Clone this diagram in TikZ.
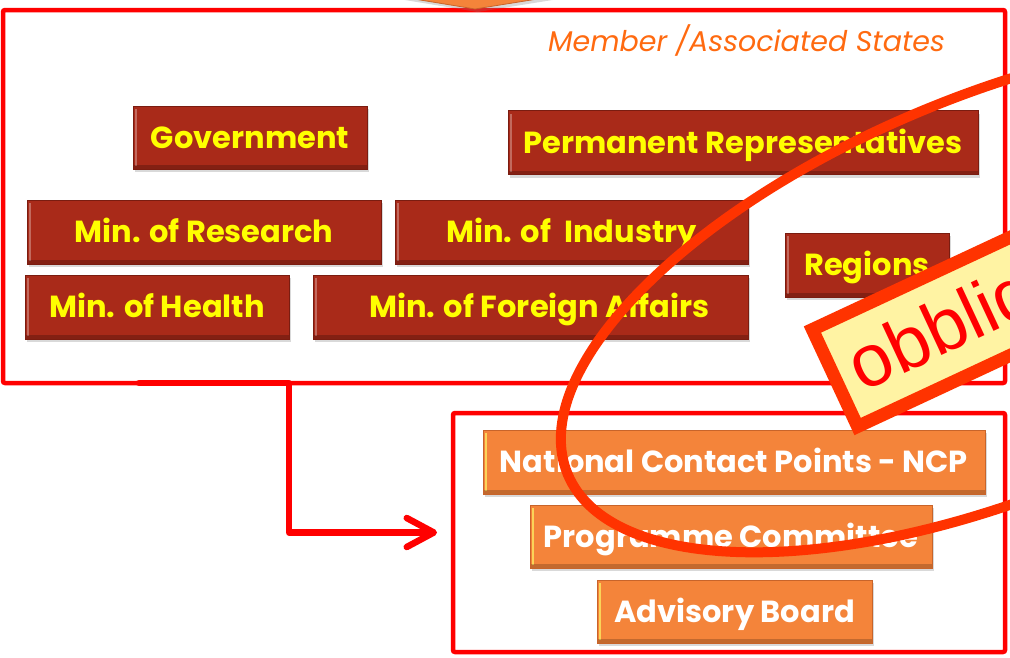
\documentclass[tikz,border=0pt]{standalone}
\usepackage{fontspec}
\setmainfont{Poppins}
\newfontfamily\signfont{Liberation Sans}
\usetikzlibrary{shadows,arrows.meta,calc}
\definecolor{brick}{HTML}{A92A19}
\definecolor{brickdark}{HTML}{7A1C10}
\definecolor{orbox}{HTML}{F4843A}
\definecolor{orboxdark}{HTML}{C8642A}
\definecolor{titleor}{HTML}{FF6A10}
\definecolor{framered}{HTML}{FF0000}
\definecolor{markred}{HTML}{FF3300}
\definecolor{signfill}{HTML}{FFF3A3}
\definecolor{ylw}{HTML}{FFFF00}
\tikzset{
  boxbase/.style={rectangle, inner sep=0pt, line width=0.8pt,
    text height=21.3pt, text depth=0pt,
    drop shadow={opacity=0.3, shadow xshift=2pt, shadow yshift=-3pt},
    font=\fontsize{30.5}{33}\selectfont\bfseries},
  brickbox/.style={boxbase, fill=brick, draw=brickdark, text=ylw,
    path picture={
      \fill[white,opacity=0.3] ([xshift=1.5pt,yshift=3pt]path picture bounding box.south west) rectangle ([xshift=4pt,yshift=-3pt]path picture bounding box.north west);
      \fill[black,opacity=0.22] (path picture bounding box.south west) rectangle ([yshift=4pt]path picture bounding box.south east);
    }},
  orangebox/.style={boxbase, fill=orbox, draw=orboxdark, text=white,
    path picture={
      \fill[yellow!60!white,opacity=0.7] ([xshift=1.5pt,yshift=3pt]path picture bounding box.south west) rectangle ([xshift=4pt,yshift=-3pt]path picture bounding box.north west);
      \fill[black,opacity=0.2] (path picture bounding box.south west) rectangle ([yshift=4pt]path picture bounding box.south east);
    }},
  framebox/.style={draw=framered, line width=4.5pt, rounded corners=2pt},
  link/.style={draw=framered, line width=6.5pt, line cap=round, line join=round},
  signbox/.style={draw=markred, line width=13pt, fill=signfill, outer sep=0pt,
    inner ysep=0pt, inner xsep=19pt, text height=56pt, text depth=6pt,
    minimum height=107pt, text width=380pt, align=left,
    text=framered, font=\signfont\fontsize{74}{80}\selectfont},
}
\begin{document}
\begin{tikzpicture}[x=1pt,y=-1pt]
\useasboundingbox (0,0) rectangle (1010,657);
\clip (0,0) rectangle (1010,657);

% frames
\draw[framebox] (3,10) rectangle (1005,383);
\node[inner sep=0pt, outer sep=0pt, minimum width=1002pt, minimum height=373pt] (member) at (504,196.5) {};
\draw[framebox] (453,413) rectangle (1005,652);
\node[inner sep=0pt, outer sep=0pt, minimum width=552pt, minimum height=239pt] (national) at (729,532.5) {};

% top ornament
\filldraw[fill=orbox, draw=orboxdark, line width=0.8pt,
  drop shadow={opacity=0.3, shadow yshift=-3pt}] (396,-4) -- (475,9) -- (556,-4) -- cycle;

% title
\node[anchor=base, text=titleor, font=\fontsize{28.5}{32}\selectfont\itshape] (title) at (746.5,51) {Member /Associated States};

% member state bodies
\node[brickbox, minimum width=234pt, minimum height=63pt] (gov) at (250,137.5) {Government};
\node[brickbox, minimum width=470pt, minimum height=64pt] (perm) at (743,142.5) {Permanent Representatives};
\node[brickbox, minimum width=354pt, minimum height=64pt] (res) at (204,232) {Min. of Research};
\node[brickbox, minimum width=353pt, minimum height=64pt] (ind) at (571.5,232) {Min. of \ Industry};
\node[brickbox, minimum width=164pt, minimum height=64pt] (reg) at (867,265) {Regions};
\node[brickbox, minimum width=264pt, minimum height=64pt] (hea) at (157,307) {Min. of Health};
\node[brickbox, minimum width=435pt, minimum height=64pt] (for) at (530.5,307) {\hspace*{18pt}Min. of Foreign Affairs};

% national bodies
\node[orangebox, minimum width=502pt, minimum height=64pt] (ncp) at (734,462) {National Contact Points - NCP};
\node[orangebox, minimum width=402pt, minimum height=63pt] (prog) at (731,536.5) {Programme Committee};
\node[orangebox, minimum width=275pt, minimum height=63pt] (adv) at (734.5,611.5) {Advisory Board};

% connector
\coordinate (start) at (139,383);
\coordinate (bend1) at (289,383);
\draw[link, -{Straight Barb[length=27pt, width=29pt, round]}, shorten >=16pt]
  (start) -- (bend1) |- (national.west);

% ellipse mark
\draw[draw=markred, line width=10pt, rotate around={22.5:(1000,295)}] (1000,295) ellipse [x radius=468pt, y radius=200pt];

% sign
\node[signbox, anchor=west, rotate=25] (sign) at (835,378) {obblig};
\end{tikzpicture}
\end{document}
